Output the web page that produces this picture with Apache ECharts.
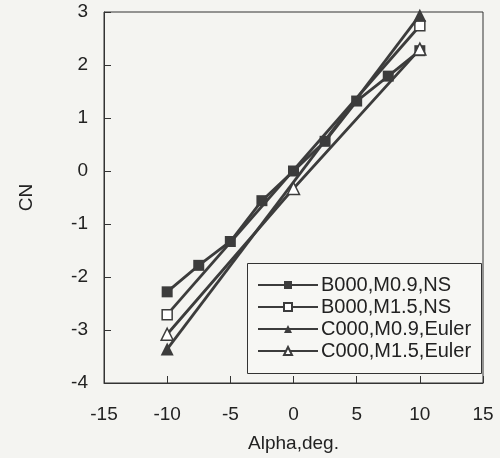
<!DOCTYPE html>
<html>
<head>
<meta charset="utf-8">
<script src="https://cdn.jsdelivr.net/npm/echarts@6/dist/echarts.min.js"></script>
<style>html,body{margin:0;padding:0;background:#f4f4f1}#c{width:500px;height:458px}</style>
</head>
<body>
<div id="c"></div>
<script>
// Data
var seriesNames = ['B000,M0.9,NS', 'B000,M1.5,NS', 'C000,M0.9,Euler', 'C000,M1.5,Euler'];
var alphaB09 = [-10, -7.5, -5, -2.5, 0, 2.5, 5, 7.5, 10];
var cnB09    = [-2.28, -1.78, -1.33, -0.56, 0.0, 0.56, 1.32, 1.79, 2.27];
var alphaB15 = [-10, 10];
var cnB15    = [-2.71, 2.74];
var alphaC09 = [-10, 10];
var cnC09    = [-3.36, 2.94];
var alphaC15 = [-10, 0, 10];
var cnC15    = [-3.08, -0.33, 2.30];
var xTicks = [-15, -10, -5, 0, 5, 10, 15];
var yTicks = [-4, -3, -2, -1, 0, 1, 2, 3];

function pairs(xs, ys) { return xs.map(function (x, i) { return [x, ys[i]]; }); }

var ink = '#333333';
var lineInk = '#3c3c3c';
var font = 'Liberation Sans, Arial, sans-serif';
var symbols = ['rect', 'rect', 'triangle', 'triangle'];
var fills = [lineInk, '#ffffff', lineInk, '#ffffff'];
var sizes = [11, 10, 13, 12];
var dataSets = [pairs(alphaB09, cnB09), pairs(alphaB15, cnB15), pairs(alphaC09, cnC09), pairs(alphaC15, cnC15)];

var chart = echarts.init(document.getElementById('c'), null, { renderer: 'canvas' });
chart.setOption({
  backgroundColor: '#f4f4f1',
  animation: false,
  grid: { left: 104, right: 17, top: 12, bottom: 71, show: true, borderColor: ink, borderWidth: 1, backgroundColor: 'transparent' },
  xAxis: {
    type: 'value', min: xTicks[0], max: xTicks[xTicks.length - 1], interval: 5,
    name: 'Alpha,deg.', nameLocation: 'middle', nameGap: 51,
    nameTextStyle: { fontFamily: font, fontSize: 19, color: '#222' },
    axisLine: { onZero: false, lineStyle: { color: ink, width: 1 } },
    axisTick: { inside: true, length: 7, lineStyle: { color: ink } },
    axisLabel: { fontFamily: font, fontSize: 19, color: '#222', margin: 22 },
    splitLine: { show: false }
  },
  yAxis: {
    type: 'value', min: yTicks[0], max: yTicks[yTicks.length - 1], interval: 1,
    name: 'CN', nameLocation: 'middle', nameGap: 68,
    nameTextStyle: { fontFamily: font, fontSize: 19, color: '#222' },
    axisLine: { show: true, onZero: false, lineStyle: { color: ink, width: 1 } },
    axisTick: { show: true, inside: true, length: 7, lineStyle: { color: ink } },
    axisLabel: { fontFamily: font, fontSize: 19, color: '#222', margin: 16 },
    splitLine: { show: false }
  },
  graphic: [{
    type: 'rect', left: 247, top: 263, z: 5,
    shape: { width: 234, height: 110 },
    style: { fill: '#f7f7f4', stroke: ink, lineWidth: 1 }
  }],
  legend: {
    left: 247, top: 263, orient: 'vertical', padding: [11, 10, 11, 10], itemGap: 0,
    itemWidth: 60, itemHeight: 10, z: 6,
    textStyle: { fontFamily: font, fontSize: 20, color: '#222', lineHeight: 22, padding: [0, 0, 0, -2] },
    data: seriesNames
  },
  series: seriesNames.map(function (n, i) {
    return {
      name: n, type: 'line', data: dataSets[i],
      symbol: symbols[i], symbolSize: sizes[i], showAllSymbol: true,
      lineStyle: { color: lineInk, width: 2.8 },
      itemStyle: { color: fills[i], borderColor: lineInk, borderWidth: i % 2 === 1 ? 1.5 : 0 },
      emphasis: { disabled: true },
      z: 2 + i
    };
  })
});
</script>
</body>
</html>
